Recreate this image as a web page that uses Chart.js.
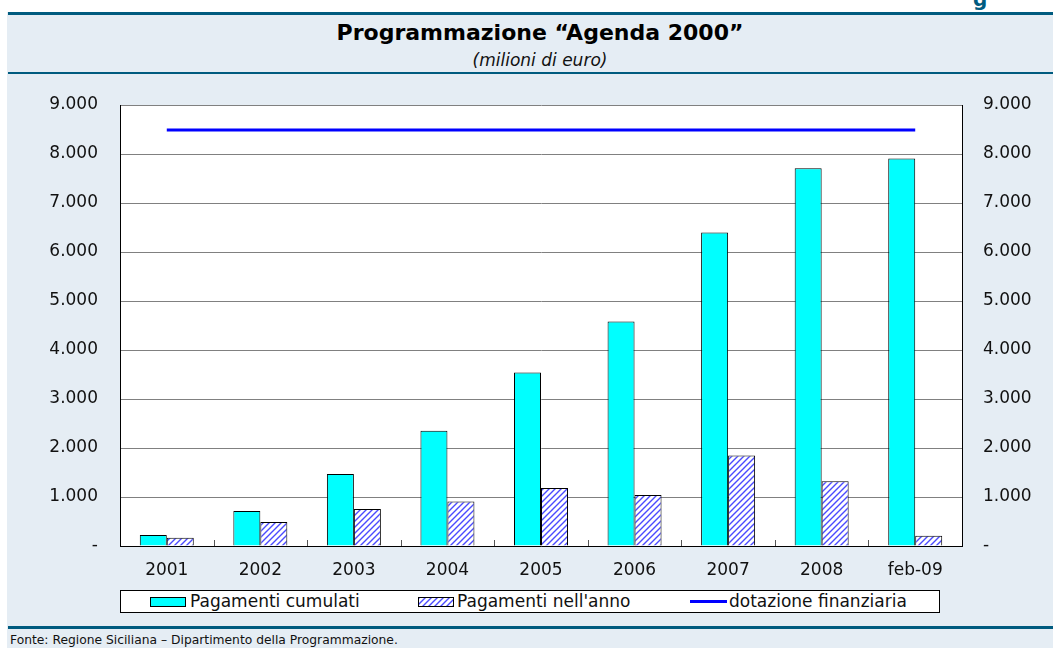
<!DOCTYPE html>
<html>
<head>
<meta charset="utf-8">
<script src="https://cdn.jsdelivr.net/npm/chart.js@4"></script>
<style>
  body { margin: 0; width: 1053px; height: 648px; background: #fff; overflow: hidden; position: relative; font-family: "DejaVu Sans", sans-serif; }
  .band { position: absolute; left: 7px; top: 12px; right: 0; bottom: 0; background: #e5edf4; }
  .rule { position: absolute; left: 8px; right: 0; background: #005b7f; }
  .corner { position: absolute; left: 973px; top: -13px; font: bold 20px "DejaVu Sans"; color: #005b7f; }
  .title { position: absolute; left: 0; width: 1080px; top: 20px; text-align: center; font: bold 22px/26px "DejaVu Sans"; color: #000; }
  .sub { position: absolute; left: 0; width: 1080px; top: 50px; text-align: center; font: oblique 17px/20px "DejaVu Sans"; color: #111; }
  #wrap { position: absolute; left: 0; top: 78px; line-height: 0; }
  .legend { position: absolute; left: 120px; top: 590px; width: 818px; height: 21px; background: #fff; border: 1px solid #000; font: 17px/21px "DejaVu Sans"; color: #111; }
  .legend span { position: absolute; top: 0; white-space: nowrap; }
  .sw { position: absolute; top: 6px; width: 34px; height: 8px; border: 1px solid #000; }
  .footer { position: absolute; left: 10px; top: 633px; font: 12.3px "DejaVu Sans"; color: #111; white-space: nowrap; }
</style>
</head>
<body>
<div class="band"></div>
<div class="corner">g</div>
<div class="rule" style="top:12px;height:3px"></div>
<div class="rule" style="top:72px;height:2px"></div>
<div class="rule" style="top:626px;height:3px"></div>
<div class="title">Programmazione “Agenda 2000”</div>
<div class="sub">(milioni di euro)</div>
<div id="wrap"><canvas id="chart" width="1053" height="510"></canvas></div>
<div class="legend">
  <div class="sw" style="left:29px;background:#00ffff"></div>
  <span style="left:69px">Pagamenti cumulati</span>
  <div class="sw" id="hatchSw" style="left:297px"></div>
  <span style="left:336px">Pagamenti nell'anno</span>
  <div style="position:absolute;left:569px;top:9px;width:37px;height:3px;background:#0000ff"></div>
  <span style="left:608px">dotazione finanziaria</span>
</div>
<div class="footer">Fonte: Regione Siciliana – Dipartimento della Programmazione.</div>

<script>
const labels = ['2001', '2002', '2003', '2004', '2005', '2006', '2007', '2008', 'feb-09'];
const cumulati = [225, 716, 1470, 2350, 3540, 4580, 6400, 7710, 7910];
const nellAnno = [170, 490, 757, 906, 1186, 1043, 1847, 1323, 210];
const dotazione = [8490, 8490, 8490, 8490, 8490, 8490, 8490, 8490, 8490];
const yTicks = [0, 1000, 2000, 3000, 4000, 5000, 6000, 7000, 8000, 9000];

// hatch pattern for the yearly payments
const makeHatch = () => {
    const c = document.createElement('canvas');
    c.width = 6; c.height = 6;
    const g = c.getContext('2d');
    g.fillStyle = '#fff';
    g.fillRect(0, 0, 6, 6);
    g.strokeStyle = '#4a4aff';
    g.lineWidth = 1.4;
    g.beginPath();
    g.moveTo(-1, 7); g.lineTo(7, -1);
    g.moveTo(-4, 4); g.lineTo(4, -4);
    g.moveTo(2, 10); g.lineTo(10, 2);
    g.stroke();
    return c;
};
const hatchCanvas = makeHatch();
document.getElementById('hatchSw').style.background = `url(${hatchCanvas.toDataURL()})`;

const fmt = v => v === 0 ? '-' : String(v).replace(/\B(?=(\d{3})+(?!\d))/g, '.');

const plotBg = {
    id: 'plotBg',
    beforeDraw(chart) {
        const { ctx, chartArea: a } = chart;
        ctx.save();
        ctx.fillStyle = '#fff';
        ctx.fillRect(a.left, a.top, a.right - a.left, a.bottom - a.top);
        ctx.restore();
    },
    afterDraw(chart) {
        // small tick marks between categories on the x axis
        const { ctx, chartArea: a } = chart;
        const step = (a.right - a.left) / labels.length;
        ctx.save();
        ctx.strokeStyle = '#555';
        ctx.lineWidth = 1;
        ctx.beginPath();
        for (let i = 1; i < labels.length; i++) {
            const x = Math.round(a.left + i * step) + 0.5;
            ctx.moveTo(x, a.bottom);
            ctx.lineTo(x, a.bottom - 6);
        }
        ctx.stroke();
        ctx.restore();
    }
};

const fitY = w => s => { s.width = w; s.paddingTop = 0; s.paddingBottom = 0; };

const ctx = document.getElementById('chart').getContext('2d');
new Chart(ctx, {
    type: 'bar',
    data: {
        labels: labels,
        datasets: [
            {
                type: 'line',
                label: 'dotazione finanziaria',
                data: dotazione,
                borderColor: '#0000ff',
                borderWidth: 3,
                pointRadius: 0,
                fill: false,
                order: 0
            },
            {
                label: 'Pagamenti cumulati',
                data: cumulati,
                backgroundColor: '#00ffff',
                borderColor: '#000',
                borderWidth: 1,
                categoryPercentage: 0.577,
                barPercentage: 1,
                order: 1
            },
            {
                label: "Pagamenti nell'anno",
                data: nellAnno,
                backgroundColor: ctx.createPattern(hatchCanvas, 'repeat'),
                borderColor: '#000',
                borderWidth: 1,
                categoryPercentage: 0.577,
                barPercentage: 1,
                order: 1
            }
        ]
    },
    options: {
        responsive: false,
        animation: false,
        layout: { padding: { top: 27, left: 0, right: 0, bottom: 0 } },
        plugins: { legend: { display: false }, tooltip: { enabled: false } },
        scales: {
            x: {
                grid: { display: false, drawTicks: false },
                border: { color: '#000', width: 1 },
                ticks: { color: '#111', font: { family: 'DejaVu Sans', size: 17 }, padding: 14 },
                afterFit: s => { s.height = 42; s.paddingLeft = 0; s.paddingRight = 0; }
            },
            y: {
                position: 'left',
                min: 0, max: 9000,
                afterBuildTicks: s => { s.ticks = yTicks.map(v => ({ value: v })); },
                grid: { color: '#808080', drawTicks: false },
                border: { color: '#000', width: 1 },
                ticks: { color: '#111', font: { family: 'DejaVu Sans', size: 17 }, padding: 22, callback: fmt },
                afterFit: fitY(120)
            },
            y1: {
                position: 'right',
                min: 0, max: 9000,
                afterBuildTicks: s => { s.ticks = yTicks.map(v => ({ value: v })); },
                grid: { display: false, drawTicks: false },
                border: { color: '#000', width: 1 },
                ticks: { color: '#111', font: { family: 'DejaVu Sans', size: 17 }, padding: 21, callback: fmt },
                afterFit: fitY(91)
            }
        }
    },
    plugins: [plotBg]
});
</script>
</body>
</html>
